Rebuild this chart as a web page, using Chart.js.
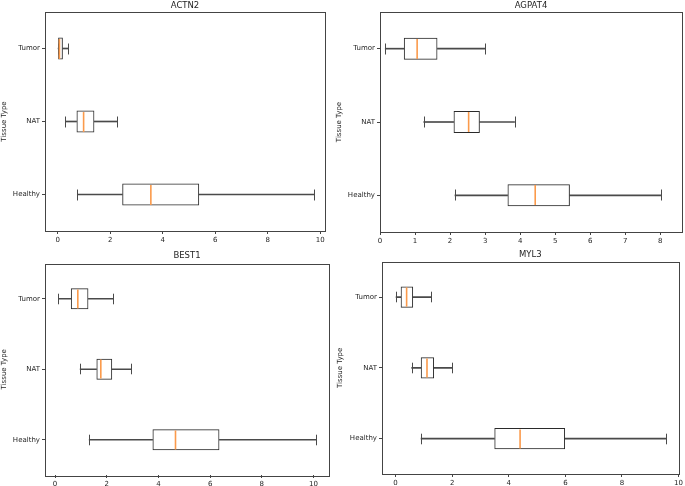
<!DOCTYPE html>
<html>
<head>
<meta charset="utf-8">
<script src="https://cdn.jsdelivr.net/npm/chart.js@4.4.0/dist/chart.umd.min.js"></script>
<style>
  html, body { margin: 0; padding: 0; background: #fff; }
  #page { position: relative; width: 685px; height: 486px; overflow: hidden; }
  .panel { position: absolute; }
</style>
</head>
<body>
<div id="page">
  <canvas id="actn2" class="panel" style="left:0px;top:0px"></canvas>
  <canvas id="agpat4" class="panel" style="left:335px;top:0px"></canvas>
  <canvas id="best1" class="panel" style="left:0px;top:245px"></canvas>
  <canvas id="myl3" class="panel" style="left:336px;top:245px"></canvas>
</div>
<script>
// tissue groups, top to bottom
const categories = ["Tumor", "NAT", "Healthy"];

// per group: [whisker low, q1, median, q3, whisker high]
const actn2 = [
  [0.00, 0.02, 0.07, 0.20, 0.39],
  [0.30, 0.72, 0.99, 1.40, 2.28],
  [0.75, 2.46, 3.55, 5.39, 9.76]
];
const agpat4 = [
  [0.15, 0.68, 1.06, 1.64, 2.99],
  [1.25, 2.10, 2.53, 2.85, 3.84],
  [2.14, 3.64, 4.43, 5.42, 8.01]
];
const best1 = [
  [0.13, 0.61, 0.88, 1.29, 2.23],
  [0.97, 1.60, 1.77, 2.21, 2.93],
  [1.32, 3.77, 4.66, 6.36, 10.10]
];
const myl3 = [
  [0.00, 0.18, 0.39, 0.62, 1.26],
  [0.57, 0.89, 1.11, 1.36, 1.99],
  [0.90, 3.49, 4.40, 5.99, 9.56]
];

const actn2Ticks = [0, 2, 4, 6, 8, 10];
const agpat4Ticks = [0, 1, 2, 3, 4, 5, 6, 7, 8];
const best1Ticks = [0, 2, 4, 6, 8, 10];
const myl3Ticks = [0, 2, 4, 6, 8, 10];

const FONT = "'DejaVu Sans', sans-serif";
const LINE = "#2a2a2a";
const WHISKER = "#4a4a4a";
const TEXT = "#1e1e1e";
const MEDIAN = "#fb9a4b";

// frame, caps and medians are drawn on top of the floating bars
const boxExtras = {
  id: "boxExtras",
  afterDatasetsDraw(chart) {
    const {ctx, chartArea, scales} = chart;
    const stats = chart.options.plugins.boxExtras.stats;
    const band = scales.y.getPixelForValue(1) - scales.y.getPixelForValue(0);
    const capHalf = band * 0.075;
    const medHalf = band * 0.15 - 1;
    ctx.save();
    stats.forEach((s, i) => {
      const y = Math.round(scales.y.getPixelForValue(i));
      ctx.lineWidth = 1;
      ctx.strokeStyle = WHISKER;
      [s[0], s[4]].forEach(v => {
        const x = Math.round(scales.x.getPixelForValue(v)) + 0.5;
        ctx.beginPath();
        ctx.moveTo(x, y - capHalf);
        ctx.lineTo(x, y + capHalf);
        ctx.stroke();
      });
      const xm = scales.x.getPixelForValue(s[2]);
      ctx.lineWidth = 1.6;
      ctx.strokeStyle = MEDIAN;
      ctx.beginPath();
      ctx.moveTo(xm, y - medHalf);
      ctx.lineTo(xm, y + medHalf);
      ctx.stroke();
    });
    ctx.lineWidth = 1;
    ctx.strokeStyle = "#444444";
    ctx.strokeRect(
      Math.round(chartArea.left) + 0.5,
      Math.round(chartArea.top) + 0.5,
      Math.round(chartArea.right - chartArea.left),
      Math.round(chartArea.bottom - chartArea.top)
    );
    ctx.restore();
  }
};

function drawPanel(id, title, stats, ticks, opts) {
  const canvas = document.getElementById(id);
  canvas.width = opts.width;
  canvas.height = opts.height;

  const whiskerLow = stats.map(s => [s[0], s[1]]);
  const whiskerHigh = stats.map(s => [s[3], s[4]]);
  const boxes = stats.map(s => [s[1], s[3]]);

  const data = {
    labels: categories,
    datasets: [
      {
        data: boxes,
        grouped: false,
        backgroundColor: "rgba(0,0,0,0)",
        borderColor: LINE,
        borderWidth: 1,
        borderSkipped: false,
        categoryPercentage: 1,
        barPercentage: 0.3
      },
      {
        data: whiskerLow,
        grouped: false,
        backgroundColor: WHISKER,
        borderWidth: 0,
        barThickness: 1
      },
      {
        data: whiskerHigh,
        grouped: false,
        backgroundColor: WHISKER,
        borderWidth: 0,
        barThickness: 1
      }
    ]
  };

  const config = {
    type: "bar",
    data: data,
    plugins: [boxExtras],
    options: {
      indexAxis: "y",
      responsive: false,
      animation: false,
      layout: {padding: {left: 0, right: opts.padRight, top: 0, bottom: 0}},
      plugins: {
        legend: {display: false},
        tooltip: {enabled: false},
        boxExtras: {stats: stats},
        title: {
          display: true,
          text: title,
          fullSize: false,
          color: TEXT,
          font: {family: FONT, size: 8.5, weight: "normal", lineHeight: "9px"},
          padding: {top: opts.titleTop, bottom: opts.titleBottom}
        }
      },
      scales: {
        x: {
          type: "linear",
          min: opts.xMin,
          max: opts.xMax,
          afterBuildTicks: scale => {
            scale.ticks = ticks.map(v => ({value: v}));
          },
          afterFit: scale => {
            scale.height = opts.xHeight;
          },
          border: {display: false},
          grid: {drawOnChartArea: false, drawTicks: true, tickLength: 3, color: "#444444"},
          ticks: {
            color: TEXT,
            font: {family: FONT, size: 7},
            padding: 2,
            maxRotation: 0,
            autoSkip: false
          }
        },
        y: {
          type: "category",
          offset: true,
          afterFit: scale => {
            scale.width = opts.yWidth;
          },
          border: {display: false},
          grid: {offset: false, drawOnChartArea: false, drawTicks: true, tickLength: 3, color: "#444444"},
          ticks: {
            color: TEXT,
            font: {family: FONT, size: 7},
            padding: 2
          },
          title: {
            display: true,
            text: "Tissue Type",
            color: TEXT,
            font: {family: FONT, size: 7},
            padding: 0
          }
        }
      }
    }
  };

  return new Chart(canvas, config);
}

drawPanel("actn2", "ACTN2", actn2, actn2Ticks, {
  width: 335, height: 245, yWidth: 45, xHeight: 14, padRight: 10,
  titleTop: 1, titleBottom: 2, xMin: -0.48, xMax: 10.18
});
drawPanel("agpat4", "AGPAT4", agpat4, agpat4Ticks, {
  width: 350, height: 245, yWidth: 45, xHeight: 13, padRight: 3,
  titleTop: 1, titleBottom: 2, xMin: 0, xMax: 8.62
});
drawPanel("best1", "BEST1", best1, best1Ticks, {
  width: 335, height: 241, yWidth: 45, xHeight: 11, padRight: 6,
  titleTop: 6, titleBottom: 3.5, xMin: -0.39, xMax: 10.6
});
drawPanel("myl3", "MYL3", myl3, myl3Ticks, {
  width: 349, height: 241, yWidth: 46, xHeight: 12, padRight: 4,
  titleTop: 5.5, titleBottom: 2.2, xMin: -0.48, xMax: 10.0
});
</script>
</body>
</html>
